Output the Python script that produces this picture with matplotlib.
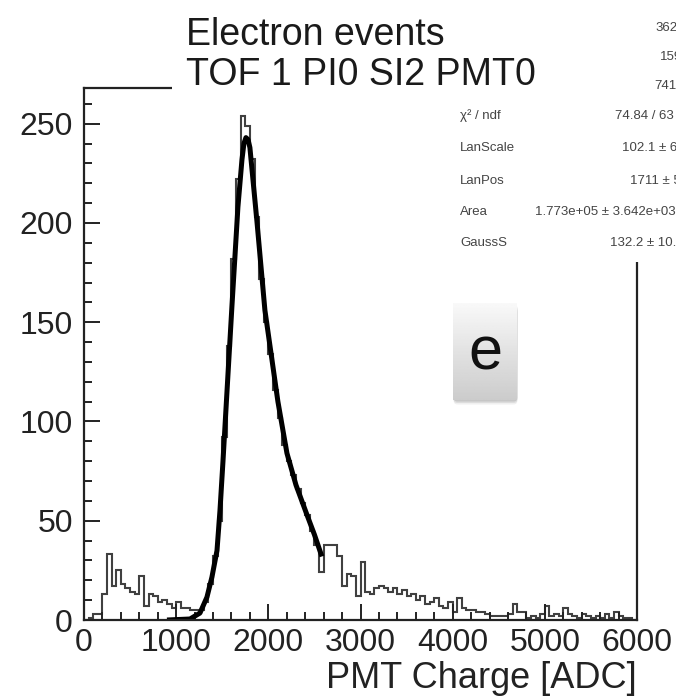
import numpy as np
import matplotlib.pyplot as plt
from matplotlib.patches import Rectangle, FancyBboxPatch
from matplotlib.ticker import MultipleLocator

plt.rcParams['font.family'] = ['Liberation Sans', 'DejaVu Sans']

# PMT charge histogram, 50 ADC bins from 0 to 6000
bin_width = 50
counts = [0, 1, 3, 3, 13, 33, 17, 25, 18, 16, 14, 13, 22, 7, 13, 12, 9, 10, 8, 6,
          9, 6, 6, 5, 5, 5, 9, 18, 32, 50, 92, 138, 182, 222, 254, 249, 232, 203, 172, 150,
          134, 116, 102, 88, 80, 73, 66, 59, 53, 45, 38, 24, 38, 38, 38, 32, 17, 23, 22, 12,
          29, 14, 13, 16, 17, 16, 14, 16, 13, 15, 12, 13, 10, 12, 8, 9, 11, 7, 6, 9,
          4, 11, 6, 5, 5, 4, 4, 3, 2, 2, 2, 2, 3, 8, 4, 4, 1, 2, 1, 3,
          7, 2, 3, 2, 6, 3, 2, 1, 3, 2, 1, 2, 1, 3, 1, 4, 2, 1, 1, 0]

# Landau (x) Gauss fit curve
fit_adc = [900, 1150, 1258, 1334, 1388, 1443, 1475, 1508, 1540, 1605, 1670, 1714,
           1735, 1757, 1780, 1800, 1876, 1963, 2104, 2202, 2300, 2419, 2500, 2581]
fit_val = [0, 0.5, 3.5, 11.5, 21.6, 35, 55, 80, 106, 158, 208, 232,
           240, 243, 242, 238, 201, 156, 110, 84, 68, 53, 43, 32]

title_lines = ['Electron events', 'TOF 1 PI0 SI2 PMT0']
stat_names = ['\u03c7\u00b2 / ndf', 'LanScale', 'LanPos', 'Area', 'GaussS']
stat_values = ['74.84 / 63', '102.1 \u00b1 6.5', '1711 \u00b1 5.2',
               '1.773e+05 \u00b1 3.642e+03', '132.2 \u00b1 10.4']
top_values = ['3629', '1593', '741.2']

W, H = 676, 699
fig = plt.figure(figsize=(W / 100, H / 100), dpi=100)
ax = fig.add_axes([84 / W, 1 - 620 / H, (637 - 84) / W, (620 - 88) / H])

edges = np.arange(0, bin_width * (len(counts) + 1), bin_width)
ax.stairs(counts, edges, color='#404040', lw=1.5)
ax.plot(fit_adc, fit_val, color='black', lw=3.6, solid_capstyle='butt', solid_joinstyle='round')

ax.set_xlim(0, 6000)
ax.set_ylim(0, 268)
ax.xaxis.set_major_locator(MultipleLocator(1000))
ax.xaxis.set_minor_locator(MultipleLocator(200))
ax.yaxis.set_major_locator(MultipleLocator(50))
ax.yaxis.set_minor_locator(MultipleLocator(10))
ax.tick_params(which='both', direction='in', colors='#222222', labelsize=23, width=1.4)
ax.tick_params(which='major', length=11.5)
ax.tick_params(which='minor', length=5.5)
ax.tick_params(axis='x', pad=6)
ax.tick_params(axis='y', pad=8)
for s in ax.spines.values():
    s.set_linewidth(1.6)
    s.set_color('#222222')
ax.set_xlabel('PMT Charge [ADC]', loc='right', fontsize=26, color='#222222', labelpad=2)

# title pad and stats pad sit on top of the frame
fig.add_artist(Rectangle((172 / W, 1 - 97 / H), (645 - 172) / W, 97 / H,
                         transform=fig.transFigure, facecolor='white', edgecolor='none', zorder=5))
fig.add_artist(Rectangle((440 / W, 1 - 262 / H), (W - 440) / W, 262 / H,
                         transform=fig.transFigure, facecolor='white', edgecolor='none', zorder=5))

fig.text(186 / W, 1 - 45 / H, title_lines[0], fontsize=27, color='#1a1a1a', zorder=6, va='baseline')
fig.text(186 / W, 1 - 85 / H, title_lines[1], fontsize=27, color='#1a1a1a', zorder=6, va='baseline')

top_x = [655, 660, 654]
top_y = [28, 57, 86]
for v, x, y in zip(top_values, top_x, top_y):
    fig.text(x / W, 1 - y / H, v, fontsize=9.5, color='#444444', va='center', zorder=6)

row_y = [116, 148, 181, 212, 243]
val_x = [615, 622, 630, 535, 610]
for name, val, y, x in zip(stat_names, stat_values, row_y, val_x):
    fig.text(460 / W, 1 - y / H, name, fontsize=9.5, color='#444444', va='center', zorder=6)
    fig.text(x / W, 1 - y / H, val, fontsize=9.5, color='#444444', va='center', zorder=6)

# "e" badge with a soft shadow and vertical gradient
bx0, by0, bw, bh = 453 / W, 1 - 400 / H, 64 / W, 97 / H
for k, a in enumerate([0.10, 0.08, 0.06]):
    off = (k + 1) * 1.5
    fig.add_artist(FancyBboxPatch((bx0 + 0.5 / W, by0 - off / H), bw, bh,
                                  boxstyle='round,pad=0,rounding_size=0.006',
                                  transform=fig.transFigure, facecolor='black', alpha=a,
                                  edgecolor='none', zorder=6))
bax = fig.add_axes([bx0, by0, bw, bh], zorder=7)
grad = np.linspace(0.975, 0.80, 64)[:, None] * np.ones((1, 8))
bax.imshow(grad, cmap='gray', vmin=0, vmax=1, aspect='auto', extent=[0, 1, 0, 1])
bax.set_axis_off()
bax.text(0.5, 0.47, 'e', fontsize=44, ha='center', va='center', color='#111111')

fig.savefig('out.png', dpi=100)
